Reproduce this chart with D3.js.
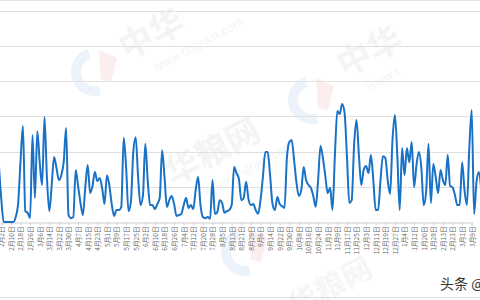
<!DOCTYPE html>
<html><head><meta charset="utf-8">
<script src="https://cdn.jsdelivr.net/npm/d3@7"></script>
<style>html,body{margin:0;padding:0;background:#fff;overflow:hidden}svg{display:block}</style>
</head><body>
<div id="chart"></div>
<script>
// Tick labels on the category axis (one every 8 days; the first label sits at index 1)
const tickLabels = ["2月2日","2月10日","2月18日","2月26日","3月6日","3月14日","3月22日","3月30日","4月7日","4月15日","4月23日","5月1日","5月9日","5月17日","5月25日","6月2日","6月10日","6月18日","6月26日","7月4日","7月12日","7月20日","7月28日","8月5日","8月13日","8月21日","8月29日","9月6日","9月14日","9月22日","9月30日","10月8日","10月16日","10月24日","11月1日","11月9日","11月17日","11月25日","12月3日","12月11日","12月19日","12月27日","1月4日","1月12日","1月20日","1月28日","2月13日","2月21日","3月1日","3月9日"];
// Series values, one point every 2 days
const values = [162,65,0,0,0,0,0,14,51,170,273,31,26,11,247,68,258,170,105,298,
128,31,105,185,153,119,133,170,267,20,11,14,148,102,54,20,99,162,82,102,
142,116,125,97,51,133,105,51,17,34,34,43,239,156,31,57,199,241,128,48,
74,222,119,48,48,37,51,68,204,128,43,62,74,51,17,20,23,48,68,40,
48,37,91,128,48,14,11,14,9,119,23,28,62,54,26,31,34,48,156,139,
122,62,68,114,65,48,51,34,23,62,128,199,199,133,51,34,71,51,45,40,
182,227,233,176,111,74,91,156,119,105,97,74,43,119,216,182,131,82,97,34,
190,315,307,335,312,190,54,62,219,290,190,105,148,159,139,190,119,34,34,119,
187,182,119,80,233,304,190,34,210,133,210,170,227,99,162,199,156,48,85,222,
54,165,128,82,148,119,105,190,102,99,77,48,48,170,91,48,210,318,23,114,
142,91];
const yTicks = [0,100,200,300,400,500,600];
const tickEvery = 4, firstTickIndex = 1;

const W = 480, H = 300;
const svg = d3.select("#chart").append("svg").attr("width", W).attr("height", H);

// frame lines of the screenshot
svg.append("line").attr("x1",0).attr("x2",W).attr("y1",0.5).attr("y2",0.5).attr("stroke","#e2e2e2");
svg.append("line").attr("x1",0).attr("x2",W).attr("y1",297.5).attr("y2",297.5).attr("stroke","#e2e2e2");

// watermark
const wm = svg.append("g").attr("pointer-events","none");
function wmText(t, x, y, size, op, weight){
  wm.append("text").attr("transform",`translate(${x},${y}) rotate(-28)`)
    .attr("font-family","Noto Sans CJK SC").attr("font-size",size).attr("font-weight",weight||"bold")
    .attr("fill","#8a8a8a").attr("opacity",op).attr("text-anchor","middle").text(t);
}
wmText("中华", 157, 45, 34, 0.09);
wmText("www.cngrain.com", 200, 48, 12, 0.09, "normal");
wmText("中华", 375, 62, 34, 0.09);
wmText("www.c", 385, 82, 12, 0.09, "normal");
wmText("华粮网", 218, 162, 34, 0.09);
wmText("www.cngrain.com", 250, 172, 12, 0.09, "normal");
wmText("华粮网", 335, 296, 30, 0.07);
// faint logos
function logo(cx, cy){
  const g = wm.append("g").attr("transform",`translate(${cx},${cy})`).attr("opacity",0.08);
  g.append("path").attr("d", d3.arc()({innerRadius:14,outerRadius:24,startAngle:-0.3,endAngle:-3.4})).attr("fill","#2a6fc9");
  g.append("path").attr("d","M4,-22 L22,-14 L16,10 L6,8 Z").attr("fill","#e03030");
}
logo(95, 72); logo(312, 100); logo(245, 252);

const y = d3.scaleLinear().domain([0, 600]).range([222, 10.8]);
const x = d3.scaleLinear().domain([firstTickIndex, firstTickIndex + tickEvery*(tickLabels.length-1)]).range([1.3, 471.7]);

// grid
svg.append("g").selectAll("line").data(yTicks.slice(1)).join("line")
  .attr("x1",0).attr("x2",W).attr("y1",d=>Math.round(y(d))+0.5).attr("y2",d=>Math.round(y(d))+0.5)
  .attr("stroke","#e0e0e0").attr("stroke-width",1);

// x axis
const tickIdx = tickLabels.map((_, k) => firstTickIndex + k*tickEvery);
const xAxis = d3.axisBottom(x).tickValues(tickIdx).tickSize(3).tickFormat((d,k)=>tickLabels[k]);
const ax = svg.append("g").attr("transform","translate(0,222.5)").call(xAxis);
ax.select(".domain").attr("stroke","#cfcfcf");
ax.selectAll(".tick line").attr("stroke","#cfcfcf");
ax.selectAll("text")
  .attr("font-family","Noto Sans CJK SC").attr("font-size",6.6).attr("fill","#666")
  .attr("transform","rotate(-90)").attr("text-anchor","end")
  .attr("x",-4).attr("y",0).attr("dy","0.35em");

// line
const line = d3.line().x((d,i)=>x(i)).y(d=>y(d)).curve(d3.curveMonotoneX);
svg.append("path").datum(values).attr("d", line)
  .attr("fill","none").attr("stroke","#1a72c6").attr("stroke-width",2).attr("stroke-linejoin","round");

// toutiao watermark
svg.append("text").attr("x",440).attr("y",289).attr("font-family","Noto Sans CJK SC")
  .attr("font-size",14).attr("fill","#333").text("头条 @中华粮网");
</script>
</body></html>
